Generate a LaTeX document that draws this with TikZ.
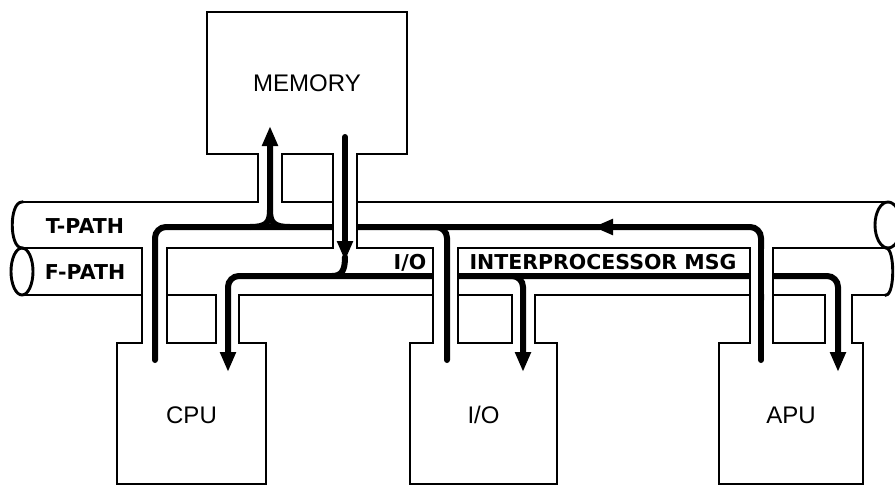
\documentclass[tikz,border=0pt]{standalone}
\usepackage{fontspec}
\usetikzlibrary{arrows.meta}
\newfontfamily\boxfont{Liberation Sans}
\newfontfamily\pathfont{DejaVu Sans}
\begin{document}
\begin{tikzpicture}[x=1pt,y=-1pt,>={Triangle[length=20pt,width=15pt]},
  pipe/.style={line width=2.9pt,line cap=rect},
  flow/.style={line width=6pt,line cap=round},
  boxtext/.style={font=\boxfont\fontsize{24}{28}\selectfont},
  pathtext/.style={font=\pathfont\bfseries\fontsize{20.5}{24}\selectfont,inner sep=0pt}]
  \useasboundingbox (0,0) rectangle (895,487);
  \draw[flow,->,rounded corners=11] (761,300) -- (761,227) -- (593,227);
  \draw[flow,rounded corners=11] (600,227) -- (155,227) -- (155,360);
  \draw[flow,<->,rounded corners=11] (228,372) -- (228,276) -- (838,276) -- (838,372);
  \fill[white] (333,203) rectangle (357,247) (433,249) rectangle (458,294) (750,249) rectangle (773,294);
  \draw[pipe] (22,202) -- (258,202) -- (258,154) -- (207,154) -- (207,12) -- (407,12) -- (407,154) -- (357,154) -- (357,248);
  \draw[pipe] (333,248) -- (333,154) -- (282,154) -- (282,202) -- (333,202);
  \draw[pipe] (357,202) -- (888,202);
  \foreach \p/\q in {22/142,167/333,357/433,458/750,773/888}
    \draw[pipe] (\p,248) -- (\q,248);
  \foreach \p/\q in {22/142,167/216,239/433,458/512,535/750,773/825,852/886}
    \draw[pipe] (\p,295) -- (\q,295);
  \draw[pipe] (22,202) .. controls (9,202) and (9,248) .. (22,248);
  \draw[pipe] (22,271.5) ellipse [x radius=11,y radius=23.5];
  \draw[pipe] (888,225) ellipse [x radius=13,y radius=23];
  \draw[pipe] (886,248) .. controls (895,248) and (895,295) .. (886,295);
  \foreach \nm/\txt/\l/\a/\b/\c/\d/\r in {cpu/CPU/117/142/167/216/239/266,io/{I/O}/410/433/458/512/535/557,apu/APU/719/750/773/825/852/863}
  {
    \draw[pipe] (\a,248) -- (\a,343) -- (\l,343) -- (\l,484) -- (\r,484) -- (\r,343) -- (\d,343) -- (\d,295);
    \draw[pipe] (\b,248) -- (\b,343) -- (\c,343) -- (\c,295);
    \node[boxtext] (\nm) at ({(\l+\r)/2},415) {\txt};
  }
  \node[boxtext] (mem) at (307,83) {MEMORY};
  \draw[flow,->] (250,227) .. controls (266,227) and (270,223) .. (270,210) -- (270,126);
  \draw[flow] (290,227) .. controls (274,227) and (270,223) .. (270,210);
  \draw[flow,->] (345,137) -- (345,261);
  \draw[flow] (345,257) .. controls (345,270) and (342,276) .. (332,276);
  \draw[flow,rounded corners=11] (447,360) -- (447,227) -- (420,227);
  \draw[flow] (761,240) -- (761,360);
  \draw[flow,->,rounded corners=11] (490,276) -- (523,276) -- (523,372);
  \node[pathtext] (tpath) at (85,226) {T-PATH};
  \node[pathtext] (fpath) at (85,272) {F-PATH};
  \node[pathtext] (iolab) at (410,263) {I/O};
  \node[pathtext] (msglab) at (603,262) {INTERPROCESSOR MSG};
\end{tikzpicture}
\end{document}
